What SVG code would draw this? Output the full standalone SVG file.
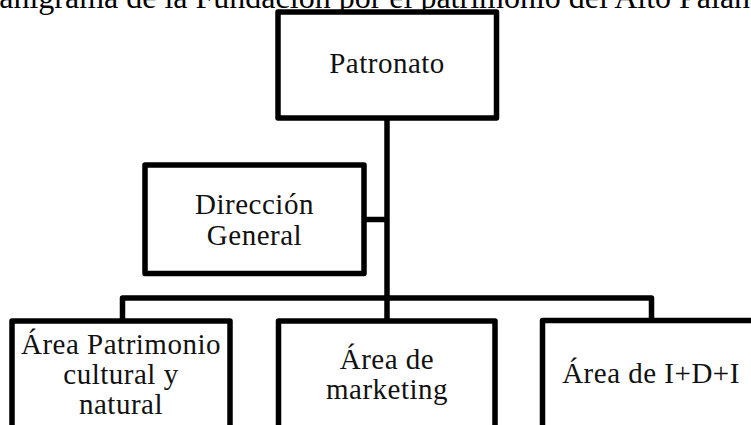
<svg xmlns="http://www.w3.org/2000/svg" width="751" height="425" viewBox="0 0 751 425">
<style>
.box{fill:#fff;stroke:#000;stroke-width:5.5;stroke-linejoin:round}
.con{fill:none;stroke:#000;stroke-width:5.5;stroke-linejoin:round}
.t{font-family:"Liberation Serif","Times New Roman",serif;font-size:29px;letter-spacing:0.5px;fill:#111;text-anchor:middle}
.title{font-family:"Liberation Serif","Times New Roman",serif;font-size:32px;fill:#000}
</style>
<rect width="751" height="425" fill="#fff"/>
<text class="title" x="-50" y="8">Organigrama de la Fundación por el patrimonio del Alto Palancia</text>
<g id="connectors">
<path class="con" d="M387 118 V321"/>
<path class="con" d="M364 219.5 H387"/>
<path class="con" d="M122.5 321 V298 H651.5 V321"/>
</g>
<g id="patronato">
<rect class="box" x="278" y="12" width="218.5" height="106"/>
<text class="t" x="387" y="73">Patronato</text>
</g>
<g id="direccion">
<rect class="box" x="145" y="165" width="219" height="108.5"/>
<text class="t" x="254.5" y="214">Dirección</text>
<text class="t" x="254.5" y="245">General</text>
</g>
<g id="area-patrimonio">
<rect class="box" x="12" y="321" width="218" height="150"/>
<text class="t" x="121" y="354">Área Patrimonio</text>
<text class="t" x="121" y="384">cultural y</text>
<text class="t" x="121" y="414">natural</text>
</g>
<g id="area-marketing">
<rect class="box" x="278.5" y="321" width="216.5" height="150"/>
<text class="t" x="387" y="369">Área de</text>
<text class="t" x="387" y="399">marketing</text>
</g>
<g id="area-idi">
<rect class="box" x="542.5" y="320.5" width="250" height="150"/>
<text class="t" x="651" y="383">Área de I+D+I</text>
</g>
</svg>
